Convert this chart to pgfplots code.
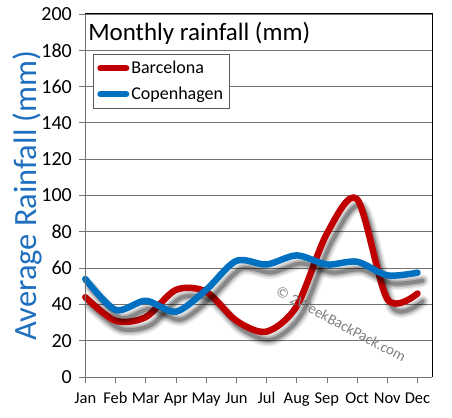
\documentclass[border=0pt]{standalone}
\usepackage{pgfplots}
\usepackage{pgfplotstable}
\pgfplotsset{compat=1.18}
\usepackage{fontspec}
\setmainfont{Carlito}
\definecolor{bred}{RGB}{192,0,0}
\definecolor{cblue}{RGB}{0,112,192}
\definecolor{ylab}{RGB}{31,111,191}
\pgfplotstableread{
m bcn cph
0 44 54
1 31 37
2 33 42
3 48 36
4 47 48
5 31 64
6 25 62
7 39 67
8 79 62
9 98 63.5
10 43 56
11 46 57.5
}\data
\pgfplotsset{
  shad/.style={smooth, no markers, black, line cap=round, line join=round, xshift=5bp, yshift=-8bp, forget plot},
}
\begin{document}
\begin{tikzpicture}
\begin{axis}[
  scale only axis,
  width=346.7bp, height=363bp,
  xmin=0, xmax=11.48, ymin=0, ymax=200,
  xtick={0,...,11},
  xticklabels={Jan,Feb,Mar,Apr,May,Jun,Jul,Aug,Sep,Oct,Nov,Dec},
  ytick={0,20,...,200},
  ymajorgrids,
  grid style={draw=black!55, line width=0.8bp},
  axis line style={draw=none},
  tick align=outside,
  tick style={draw=black!55, line width=0.8bp},
  major tick length=6bp,
  xtick pos=bottom, ytick pos=left,
  /pgf/number format/assume math mode=true,
  yticklabel style={font=\fontsize{20bp}{20bp}\selectfont, xshift=-4bp},
  xticklabel style={font=\fontsize{16.5bp}{16.5bp}\selectfont, yshift=-6bp},
  ylabel={Average Rainfall (mm)},
  ylabel style={font=\fontsize{32.5bp}{32.5bp}\selectfont, text=ylab, yshift=-8bp},
  clip=false,
  legend style={at={(0.022,0.89)}, anchor=north west, draw=black!65, line width=0.8bp,
    font=\fontsize{18bp}{18bp}\selectfont, inner xsep=4bp, inner ysep=5bp,
    row sep=8bp},
  legend cell align=left,
  legend image code/.code={\draw[#1, line width=6bp, line cap=round] (0bp,0bp) -- (26bp,0bp);},
]
\addplot[shad, line width=13bp, opacity=0.07] table[x=m,y=bcn]{\data};
\addplot[shad, line width=10bp, opacity=0.1] table[x=m,y=bcn]{\data};
\addplot[shad, line width=7bp, opacity=0.15] table[x=m,y=bcn]{\data};
\addplot[shad, line width=4bp, opacity=0.25] table[x=m,y=bcn]{\data};
\addplot[bred, smooth, no markers, line width=6.5bp, line cap=round, line join=round] table[x=m,y=bcn]{\data};
\addlegendentry{Barcelona}
\addplot[shad, line width=13bp, opacity=0.07] table[x=m,y=cph]{\data};
\addplot[shad, line width=10bp, opacity=0.1] table[x=m,y=cph]{\data};
\addplot[shad, line width=7bp, opacity=0.15] table[x=m,y=cph]{\data};
\addplot[shad, line width=4bp, opacity=0.25] table[x=m,y=cph]{\data};
\addplot[cblue, smooth, no markers, line width=6.5bp, line cap=round, line join=round] table[x=m,y=cph]{\data};
\addlegendentry{Copenhagen}
\node[anchor=west, font=\fontsize{25bp}{25bp}\selectfont, inner sep=0pt] at (rel axis cs:0.008,0.948) {Monthly rainfall (mm)};
\node[rotate=-27.8, text=black!50, font=\fontsize{15bp}{15bp}\selectfont, inner sep=0pt] at (axis cs:8.47,29.2) {© 2WeekBackPack.com};
\end{axis}
\draw[black!55, line width=0.8bp] (current axis.south west) -- (current axis.north west);
\draw[black!55, line width=0.8bp] (current axis.south west) -- (current axis.south east);
\draw[black, line width=1bp] (current axis.north west) -- (current axis.north east) -- (current axis.south east);
\path ([shift={(-85.3bp,-41bp)}]current axis.south west) rectangle ([shift={(20bp,14bp)}]current axis.north east);
\end{tikzpicture}
\end{document}
